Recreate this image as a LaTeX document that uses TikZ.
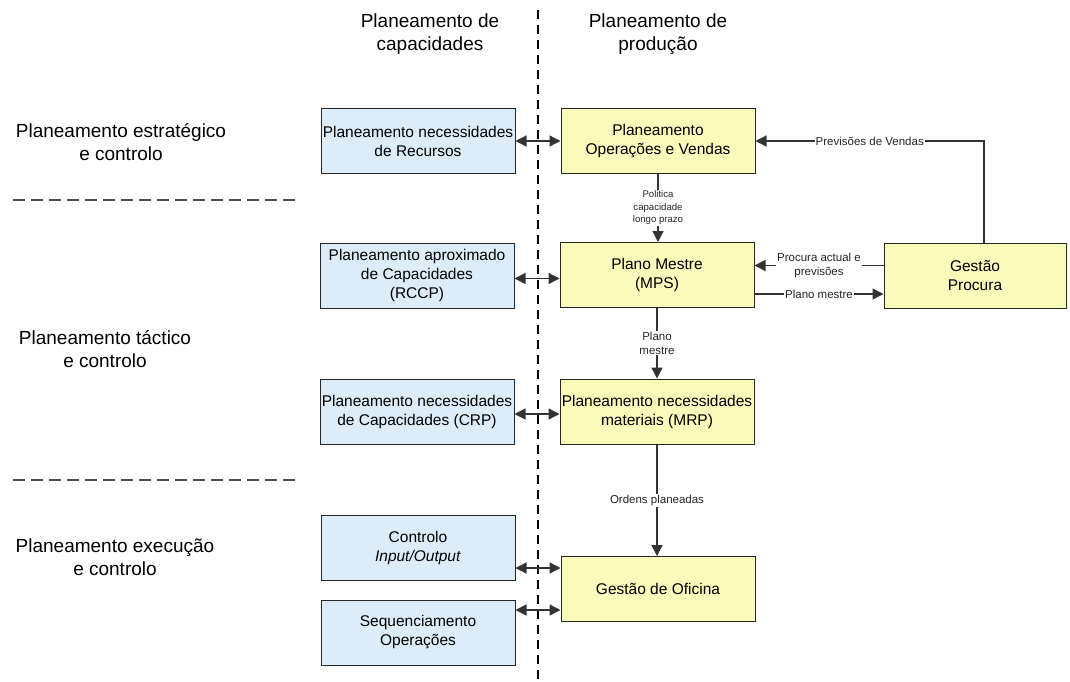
\documentclass[tikz,border=0pt]{standalone}
\usepackage{fontspec}
\setmainfont{Liberation Sans}
\usetikzlibrary{arrows.meta,calc}

\definecolor{capblue}{HTML}{DCECF9}
\definecolor{prodyellow}{HTML}{FAFABB}
\definecolor{edgegrey}{HTML}{333333}

\begin{document}
\begin{tikzpicture}[x=1pt,y=-1pt,
  box/.style={draw=black!85, line width=1pt, minimum width=194pt,
    minimum height=65pt, inner sep=0pt, align=center,
    font=\fontsize{15.5}{19}\selectfont},
  capbox/.style={box, fill=capblue},
  prodbox/.style={box, fill=prodyellow},
  tip/.tip={Triangle[length=11pt,width=11pt]},
  flow/.style={draw=edgegrey, line width=1.3pt, -tip},
  both/.style={draw=edgegrey, line width=1.3pt, tip-tip},
  lbl/.style={fill=white, inner sep=1pt, align=center, text=black!85,
    font=\fontsize{11.5}{14}\selectfont},
  smalllbl/.style={lbl, font=\fontsize{9.6}{12.5}\selectfont},
  heading/.style={align=center, font=\fontsize{19}{22.5}\selectfont},
  divider/.style={draw=black!70, line width=1.2pt, dash pattern=on 12pt off 6pt}
]
\useasboundingbox (0,0) rectangle (1070,681);

% column dividers and level separators
\draw[draw=black, line width=1.1pt, dash pattern=on 9pt off 6pt] (538,10) -- (538,681);
\draw[divider] (13,200) -- (296,200);
\draw[divider] (13,480) -- (296,480);

% column headings
\node[heading] (hcap) at (430,34) {Planeamento de\\capacidades};
\node[heading] (hprod) at (658,34) {Planeamento de\\produção};

% planning levels
\node[heading] (lvl1) at (121,142) {Planeamento estratégico\\e controlo};
\node[heading] (lvl2) at (105,349) {Planeamento táctico\\e controlo};
\node[heading] (lvl3) at (115,557) {Planeamento execução\\e controlo};

% capacity planning boxes
\node[capbox] (rec)  at (418,141)   {Planeamento necessidades\\de Recursos};
\node[capbox] (rccp) at (417,275.5) {Planeamento aproximado\\de Capacidades\\(RCCP)};
\node[capbox] (crp)  at (417,411.5) {Planeamento necessidades\\de Capacidades (CRP)};
\node[capbox] (ctrl) at (418,547.5) {Controlo\\\textit{Input/Output}};
\node[capbox] (seq)  at (418,632.5) {Sequenciamento\\Operações};

% production planning boxes
\node[prodbox] (pov) at (658,141)   {Planeamento\\Operações e Vendas};
\node[prodbox] (mps) at (657,275)   {Plano Mestre\\(MPS)};
\node[prodbox] (mrp) at (657,411.5) {Planeamento necessidades\\materiais (MRP)};
\node[prodbox] (ofi) at (658,589)   {Gestão de Oficina};
\node[prodbox, minimum width=182pt] (gp) at (975,275.5) {Gestão\\Procura};

% links between capacity and production planning
\draw[both] (rec.east) -- (pov.west);
\draw[both] ([yshift=-3pt]rccp.east) -- ([yshift=-3pt]rccp.east -| mps.west);
\draw[both] ([yshift=-2.5pt]crp.east) -- ([yshift=-2.5pt]crp.east -| mrp.west);
\draw[both] ([yshift=-20.5pt]ctrl.east) -- ([yshift=-20.5pt]ctrl.east -| ofi.west);
\draw[both] ([yshift=22.5pt]seq.east) -- ([yshift=22.5pt]seq.east -| ofi.west);

% production planning flow
\draw[flow] (pov.south) -- node[smalllbl] {Politica\\capacidade\\longo prazo} (pov.south |- mps.north);
\draw[flow] (mps.south) -- node[lbl] {Plano\\mestre} (mps.south |- mrp.north);
\draw[flow] (mrp.south) -- node[lbl] {Ordens planeadas} (mrp.south |- ofi.north);

% demand management
\coordinate (gpup) at ($(gp.north)+(9,0)$);
\draw[flow] (gpup) -- (gpup |- pov.east) -- node[lbl] {Previsões de Vendas} (pov.east);
\draw[flow] ([yshift=10pt]gp.west) -- node[lbl] {Procura actual e\\previsões} ([yshift=10pt]gp.west -| mps.east);
\draw[flow] ([yshift=-19pt]mps.east) -- node[lbl] {Plano mestre} ([yshift=-19pt]mps.east -| gp.west);
\end{tikzpicture}
\end{document}
